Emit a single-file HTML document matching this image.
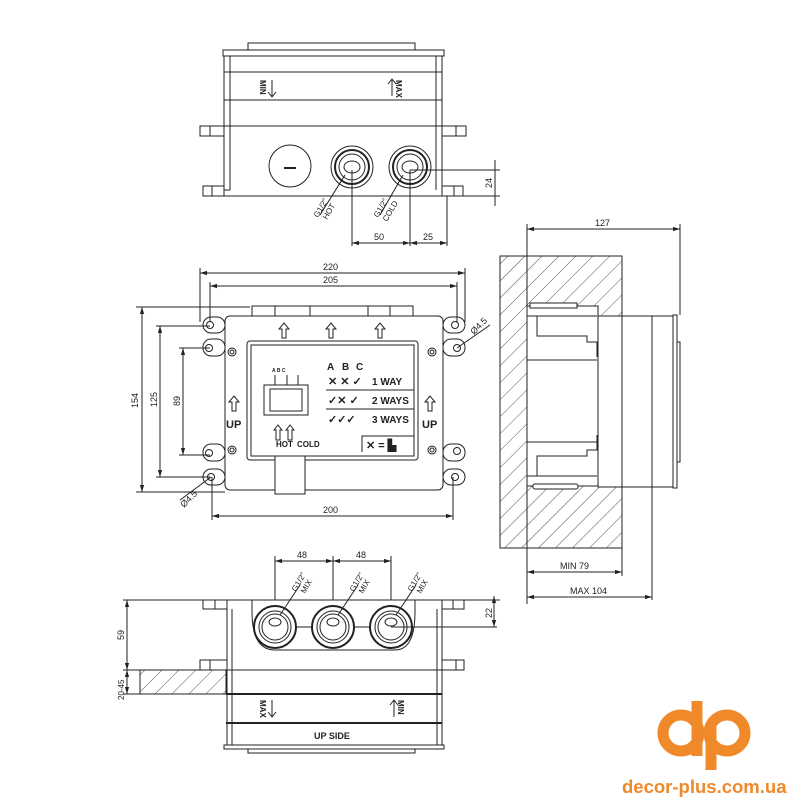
<!DOCTYPE html>
<html><head><meta charset="utf-8"><style>
html,body{margin:0;padding:0;background:#fff;width:800px;height:800px;overflow:hidden}
svg{display:block}
text{font-family:"Liberation Sans",sans-serif;fill:#222}
</style></head><body>
<svg width="800" height="800" viewBox="0 0 800 800" xmlns="http://www.w3.org/2000/svg">
<defs>
<pattern id="h" width="12" height="12" patternUnits="userSpaceOnUse" patternTransform="rotate(45)">
<rect width="12" height="12" fill="#fff"/><line x1="0" y1="0" x2="0" y2="12" stroke="#555" stroke-width="1"/>
</pattern>
<marker id="a" viewBox="0 0 10 10" refX="10" refY="5" markerWidth="7" markerHeight="7" orient="auto-start-reverse"><path d="M0,2 L10,5 L0,8z" fill="#222"/></marker>
</defs>
<g fill="none" stroke="#222" stroke-width="1">
<!-- TOP VIEW -->
<rect x="248" y="43" width="167" height="7"/>
<rect x="223" y="50" width="221" height="6"/>
<rect x="224" y="56" width="218" height="140"/>
<line x1="230" y1="56" x2="230" y2="190"/><line x1="436" y1="56" x2="436" y2="190"/>
<line x1="224" y1="72" x2="442" y2="72"/>
<line x1="224" y1="100" x2="442" y2="100"/>
<line x1="224" y1="126" x2="442" y2="126"/>
<rect x="200" y="126" width="24" height="10"/><line x1="210" y1="126" x2="210" y2="136"/>
<rect x="442" y="126" width="24" height="10"/><line x1="456" y1="126" x2="456" y2="136"/>
<rect x="203" y="186" width="21" height="10"/><line x1="212" y1="186" x2="212" y2="196"/>
<rect x="442" y="186" width="21" height="10"/><line x1="454" y1="186" x2="454" y2="196"/>
<line x1="230" y1="190" x2="224" y2="190"/>
<circle cx="290" cy="166" r="21"/><line x1="284" y1="168" x2="296" y2="168" stroke-width="2"/>
<circle cx="352" cy="167" r="21"/><circle cx="352" cy="167" r="17" stroke-width="2"/><circle cx="352" cy="167" r="13"/><ellipse cx="352" cy="167" rx="8" ry="6"/>
<circle cx="410" cy="167" r="21"/><circle cx="410" cy="167" r="17" stroke-width="2"/><circle cx="410" cy="167" r="13"/><ellipse cx="410" cy="167" rx="8" ry="6"/>
<line x1="352" y1="170" x2="352" y2="246"/><line x1="410" y1="170" x2="410" y2="246"/><line x1="447" y1="196" x2="447" y2="246"/>
<line x1="352" y1="243" x2="410" y2="243" marker-start="url(#a)" marker-end="url(#a)"/>
<line x1="410" y1="243" x2="447" y2="243" marker-start="url(#a)" marker-end="url(#a)"/>
<line x1="410" y1="170" x2="500" y2="170"/><line x1="442" y1="196" x2="500" y2="196"/>
<line x1="495" y1="160" x2="495" y2="206"/>
<line x1="345" y1="175" x2="320" y2="215"/><line x1="403" y1="175" x2="380" y2="215"/>
<path d="M272 80 v16 M268 92 l4 5 l4-5"/>
<path d="M392 96 v-16 M388 84 l4-5 l4 5"/>
<!-- FRONT VIEW dims -->
<line x1="200" y1="273" x2="465" y2="273" marker-start="url(#a)" marker-end="url(#a)"/>
<line x1="210" y1="286" x2="457" y2="286" marker-start="url(#a)" marker-end="url(#a)"/>
<line x1="200" y1="268" x2="200" y2="322"/><line x1="465" y1="268" x2="465" y2="322"/>
<line x1="210" y1="282" x2="210" y2="322"/><line x1="457" y1="282" x2="457" y2="322"/>
<line x1="142" y1="307" x2="142" y2="492" marker-start="url(#a)" marker-end="url(#a)"/>
<line x1="160" y1="326" x2="160" y2="477" marker-start="url(#a)" marker-end="url(#a)"/>
<line x1="183" y1="348" x2="183" y2="455" marker-start="url(#a)" marker-end="url(#a)"/>
<line x1="136" y1="307" x2="250" y2="307"/><line x1="136" y1="492" x2="225" y2="492"/>
<line x1="156" y1="326" x2="210" y2="326"/><line x1="156" y1="477" x2="210" y2="477"/>
<line x1="179" y1="348" x2="210" y2="348"/><line x1="179" y1="455" x2="210" y2="455"/>
<line x1="212" y1="516" x2="453" y2="516" marker-start="url(#a)" marker-end="url(#a)"/>
<line x1="212" y1="477" x2="212" y2="520"/><line x1="453" y1="477" x2="453" y2="520"/>
<line x1="457" y1="348" x2="490" y2="325"/><line x1="211" y1="477" x2="180" y2="500"/>
<rect x="252" y="306" width="161" height="10"/>
<line x1="275" y1="306" x2="275" y2="316"/><line x1="310" y1="306" x2="310" y2="316"/><line x1="368" y1="306" x2="368" y2="316"/><line x1="390" y1="306" x2="390" y2="316"/>
<rect x="225" y="316" width="218" height="174" rx="5"/>
<rect x="247" y="341" width="171" height="119" rx="3"/>
<rect x="251" y="345" width="163" height="111"/>
<rect x="275" y="456" width="30" height="38" fill="#fff"/>
<g>
<rect x="203" y="317" width="22" height="16" rx="8"/><circle cx="210" cy="325" r="3.5"/>
<rect x="203" y="339" width="22" height="17" rx="8"/><circle cx="209" cy="348" r="3.5"/>
<rect x="203" y="444" width="22" height="17" rx="8"/><circle cx="209" cy="453" r="3.5"/>
<rect x="203" y="469" width="22" height="16" rx="8"/><circle cx="211" cy="477" r="3.5"/>
<rect x="443" y="317" width="22" height="16" rx="8"/><circle cx="455" cy="325" r="3.5"/>
<rect x="443" y="339" width="22" height="17" rx="8"/><circle cx="457" cy="348" r="3.5"/>
<rect x="443" y="444" width="22" height="17" rx="8"/><circle cx="457" cy="451" r="3.5"/>
<rect x="443" y="469" width="22" height="16" rx="8"/><circle cx="455" cy="477" r="3.5"/>
</g>
<circle cx="232" cy="352" r="4"/><circle cx="232" cy="352" r="2"/>
<circle cx="432" cy="352" r="4"/><circle cx="432" cy="352" r="2"/>
<circle cx="232" cy="450" r="4"/><circle cx="232" cy="450" r="2"/>
<circle cx="432" cy="450" r="4"/><circle cx="432" cy="450" r="2"/>
<path d="M282 338 v-9 h-3 l5-6 l5 6 h-3 v9z"/>
<path d="M329 338 v-9 h-3 l5-6 l5 6 h-3 v9z"/>
<path d="M378 338 v-9 h-3 l5-6 l5 6 h-3 v9z"/>
<path d="M232 411 v-9 h-3 l5-6 l5 6 h-3 v9z"/>
<path d="M428 411 v-9 h-3 l5-6 l5 6 h-3 v9z"/>
<path d="M276 440 v-10 h-2 l4-5 l4 5 h-2 v10z"/>
<path d="M288 440 v-10 h-2 l4-5 l4 5 h-2 v10z"/>
<rect x="264" y="385" width="44" height="30"/>
<rect x="270" y="389" width="32" height="22"/>
<line x1="275" y1="385" x2="275" y2="375"/><line x1="287" y1="385" x2="287" y2="375"/><line x1="298" y1="385" x2="298" y2="375"/>
<line x1="326" y1="390" x2="414" y2="390"/><line x1="326" y1="409" x2="414" y2="409"/>
<path d="M362 452 v-16 h52"/>
</g>
<g font-weight="bold">
<text x="327" y="370" font-size="10">A</text><text x="342" y="370" font-size="10">B</text><text x="356" y="370" font-size="10">C</text>
<text x="328" y="385" font-size="11">✕ ✕ ✓</text><text x="372" y="385" font-size="10">1 WAY</text>
<text x="328" y="404" font-size="11">✓✕ ✓</text><text x="372" y="404" font-size="10">2 WAYS</text>
<text x="328" y="423" font-size="11">✓✓✓</text><text x="372" y="423" font-size="10">3 WAYS</text>
<text x="366" y="449" font-size="11">✕ = ▙</text>
<text x="276" y="447" font-size="8">HOT</text><text x="297" y="447" font-size="8">COLD</text>
<text x="226" y="428" font-size="11">UP</text><text x="422" y="428" font-size="11">UP</text>
<text x="272" y="372" font-size="5">A  B  C</text>
</g>
<g font-size="9">
<text x="323" y="270">220</text><text x="323" y="283">205</text><text x="323" y="513">200</text>
<text transform="translate(138,408) rotate(-90)">154</text>
<text transform="translate(157,407) rotate(-90)">125</text>
<text transform="translate(180,406) rotate(-90)">89</text>
<text transform="translate(474,335) rotate(-45)">Ø4.5</text>
<text transform="translate(184,508) rotate(-45)">Ø4.5</text>
<text x="374" y="240">50</text><text x="423" y="240">25</text>
<text transform="translate(492,188) rotate(-90)">24</text>
<text transform="translate(318,218) rotate(-60)" font-size="8">G1/2"</text>
<text transform="translate(327,220) rotate(-60)" font-size="8">HOT</text>
<text transform="translate(378,218) rotate(-60)" font-size="8">G1/2"</text>
<text transform="translate(387,222) rotate(-60)" font-size="8">COLD</text>
<text font-weight="bold" font-size="8" transform="translate(260,80) rotate(90)">MIN</text>
<text font-weight="bold" font-size="8" transform="translate(396,80) rotate(90)">MAX</text>
</g>
<!-- SIDE VIEW -->
<rect x="500" y="256" width="122" height="292" fill="url(#h)" stroke="#222"/>
<g fill="#fff" stroke="#222">
<rect x="527" y="306" width="71" height="180"/>
<rect x="530" y="303" width="47" height="5"/>
<rect x="598" y="316" width="75" height="171"/>
<rect x="673" y="315" width="4" height="173"/>
<rect x="677" y="342" width="3" height="120"/>
<rect x="533" y="484" width="45" height="5" rx="2"/>
</g>
<g fill="none" stroke="#222">
<line x1="622" y1="316" x2="622" y2="487"/><line x1="652" y1="316" x2="652" y2="600"/>
<path d="M527 316 h10 v20 h50 v6 h10 v15 M527 476 h10 v-20 h50 v-6 h10 v-15"/>
<line x1="527" y1="360" x2="597" y2="360"/><line x1="527" y1="442" x2="597" y2="442"/>
<line x1="537" y1="316" x2="597" y2="316"/><line x1="537" y1="476" x2="597" y2="476"/>
<line x1="527" y1="224" x2="527" y2="604"/><line x1="680" y1="224" x2="680" y2="315"/>
<line x1="622" y1="548" x2="622" y2="576"/>
<line x1="527" y1="229" x2="680" y2="229" marker-start="url(#a)" marker-end="url(#a)"/>
<line x1="527" y1="572" x2="622" y2="572" marker-start="url(#a)" marker-end="url(#a)"/>
<line x1="527" y1="597" x2="652" y2="597" marker-start="url(#a)" marker-end="url(#a)"/>
</g>
<g font-size="9"><text x="595" y="226">127</text><text x="560" y="569">MIN 79</text><text x="570" y="594">MAX 104</text></g>
<!-- BOTTOM VIEW -->
<rect x="140" y="670" width="86" height="24" fill="url(#h)" stroke="#222"/>
<g fill="none" stroke="#222">
<line x1="275" y1="561" x2="333" y2="561" marker-start="url(#a)" marker-end="url(#a)"/>
<line x1="333" y1="561" x2="391" y2="561" marker-start="url(#a)" marker-end="url(#a)"/>
<line x1="275" y1="556" x2="275" y2="627"/><line x1="333" y1="556" x2="333" y2="627"/><line x1="391" y1="556" x2="391" y2="627"/>
<line x1="123" y1="600" x2="203" y2="600"/>
<rect x="203" y="600" width="24" height="9"/><line x1="215" y1="600" x2="215" y2="609"/>
<rect x="442" y="600" width="22" height="9"/><line x1="453" y1="600" x2="453" y2="609"/>
<line x1="227" y1="600" x2="442" y2="600"/>
<line x1="464" y1="600" x2="500" y2="600"/>
<line x1="227" y1="609" x2="227" y2="745"/><line x1="442" y1="609" x2="442" y2="745"/>
<line x1="232" y1="609" x2="232" y2="745"/><line x1="437" y1="609" x2="437" y2="745"/>
<rect x="200" y="660" width="27" height="10"/><line x1="210" y1="660" x2="210" y2="670"/>
<rect x="442" y="660" width="22" height="10"/><line x1="456" y1="660" x2="456" y2="670"/>
<line x1="123" y1="670" x2="442" y2="670"/>
<line x1="123" y1="694" x2="226" y2="694"/>
<line x1="226" y1="694" x2="442" y2="694" stroke-width="2"/>
<line x1="226" y1="723" x2="442" y2="723" stroke-width="2"/>
<rect x="224" y="745" width="220" height="4"/>
<rect x="248" y="749" width="167" height="4"/>
<path d="M252 600 h163 v12 q0 38 -20 38 h-120 q-23 0 -23 -38z" fill="#fff"/>
<circle cx="275" cy="627" r="21" fill="#fff" stroke-width="2"/><circle cx="275" cy="627" r="16"/><circle cx="275" cy="627" r="13"/>
<circle cx="333" cy="627" r="21" fill="#fff" stroke-width="2"/><circle cx="333" cy="627" r="16"/><circle cx="333" cy="627" r="13"/>
<circle cx="391" cy="627" r="21" fill="#fff" stroke-width="2"/><circle cx="391" cy="627" r="16"/><circle cx="391" cy="627" r="13"/>
<ellipse cx="275" cy="622" rx="6" ry="4"/><ellipse cx="333" cy="622" rx="6" ry="4"/><ellipse cx="391" cy="622" rx="6" ry="4"/>
<line x1="296" y1="627" x2="312" y2="627"/><line x1="354" y1="627" x2="370" y2="627"/>
<line x1="391" y1="627" x2="497" y2="627"/>
<line x1="280" y1="615" x2="300" y2="585"/><line x1="338" y1="615" x2="358" y2="585"/><line x1="396" y1="615" x2="416" y2="585"/>
<line x1="127" y1="600" x2="127" y2="670" marker-start="url(#a)" marker-end="url(#a)"/>
<line x1="127" y1="670" x2="127" y2="694" marker-start="url(#a)" marker-end="url(#a)"/>
<line x1="494" y1="596" x2="494" y2="627" marker-start="url(#a)" marker-end="url(#a)"/>
<path d="M272 700 v16 M268 712 l4 5 l4-5"/>
<path d="M394 717 v-16 M390 705 l4-5 l4 5"/>
</g>
<g font-size="9">
<text x="297" y="558">48</text><text x="356" y="558">48</text>
<text transform="translate(124,640) rotate(-90)">59</text>
<text transform="translate(124,700) rotate(-90)" font-size="8">20-45</text>
<text transform="translate(492,618) rotate(-90)">22</text>
<text transform="translate(296,592) rotate(-60)" font-size="8">G1/2"</text><text transform="translate(305,594) rotate(-60)" font-size="8">MIX</text>
<text transform="translate(354,592) rotate(-60)" font-size="8">G1/2"</text><text transform="translate(363,594) rotate(-60)" font-size="8">MIX</text>
<text transform="translate(412,592) rotate(-60)" font-size="8">G1/2"</text><text transform="translate(421,594) rotate(-60)" font-size="8">MIX</text>
<text font-weight="bold" font-size="8" transform="translate(260,700) rotate(90)">MAX</text>
<text font-weight="bold" font-size="8" transform="translate(398,700) rotate(90)">MIN</text>
<text x="314" y="739" font-weight="bold" font-size="9">UP  SIDE</text>
</g>
<!-- LOGO -->
<g fill="none" stroke="#f0892a" stroke-width="11">
<circle cx="681" cy="733" r="18"/>
<line x1="697" y1="701" x2="697" y2="756"/>
<circle cx="727" cy="733" r="18"/>
<line x1="711" y1="726" x2="711" y2="770"/>
</g>
<text x="622" y="793" font-size="18.5" font-weight="bold" style="fill:#f0892a">decor-plus.com.ua</text>
</svg>
</body></html>
